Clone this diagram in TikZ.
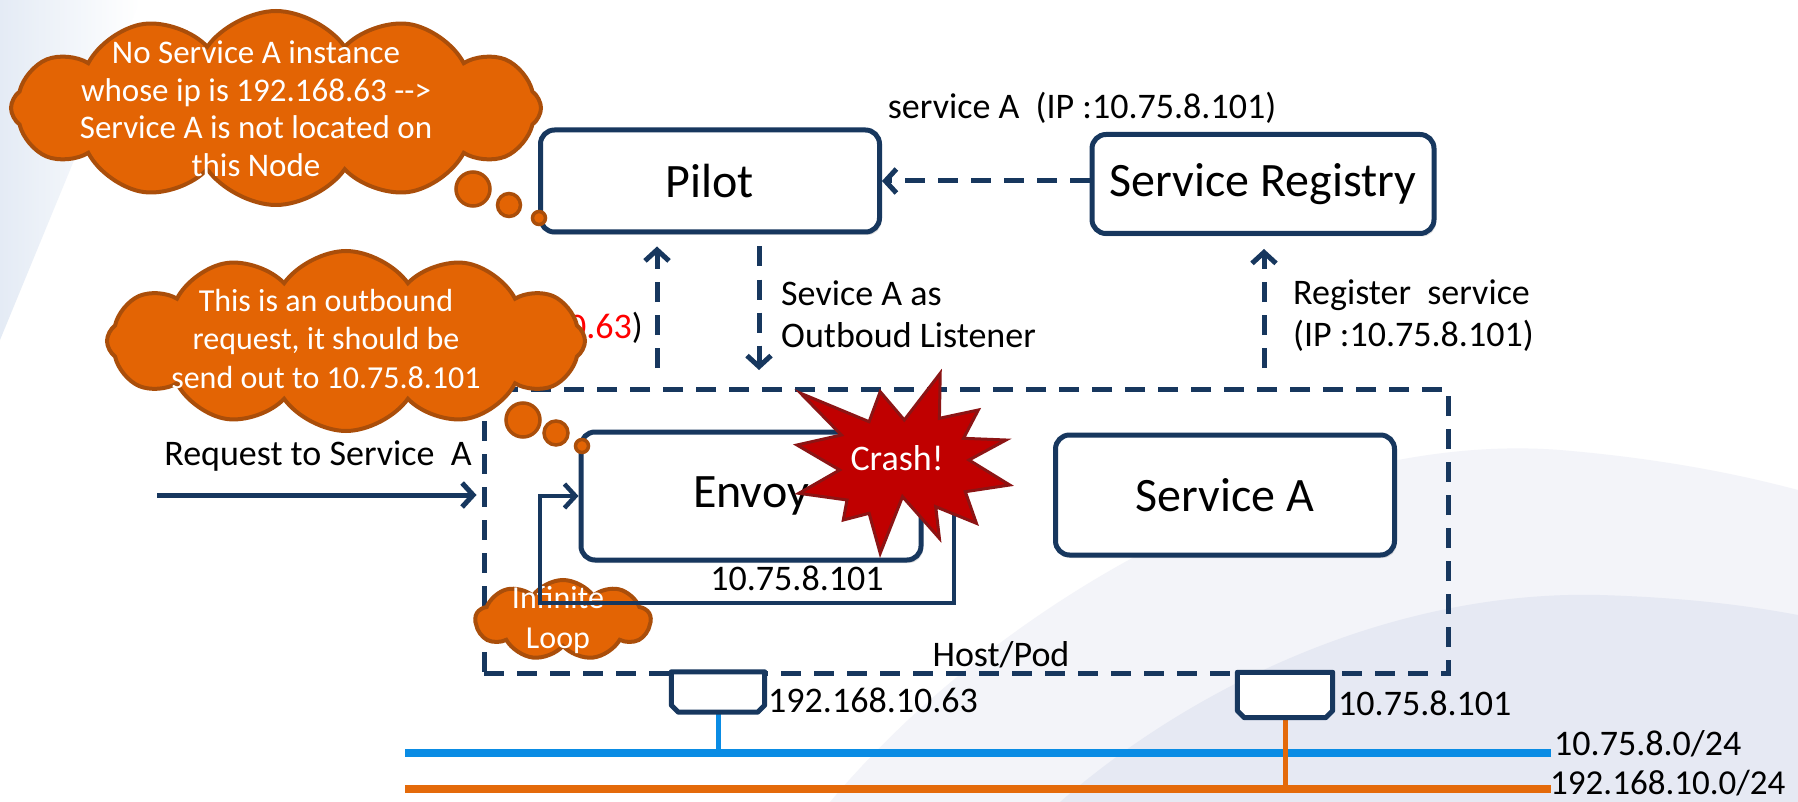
\documentclass[tikz,border=0pt]{standalone}
\usepackage{fontspec}
\setmainfont{Carlito}
\usetikzlibrary{arrows.meta,shapes.symbols,shadows}
\definecolor{navy}{RGB}{23,55,94}
\definecolor{cloudfill}{RGB}{227,100,4}
\definecolor{clouddraw}{RGB}{170,78,10}
\definecolor{crashfill}{RGB}{192,0,0}
\definecolor{crashdraw}{RGB}{140,20,20}
\definecolor{netblue}{RGB}{10,140,228}
\definecolor{netorange}{RGB}{228,106,10}
\definecolor{bgA}{RGB}{243,244,249}
\definecolor{bgB}{RGB}{230,233,243}
\definecolor{bgL}{RGB}{228,235,245}
\begin{document}
\begin{tikzpicture}[x=1pt,y=-1pt,
  lbl/.style={font=\fontsize{36}{42}\selectfont, inner sep=0pt, text=black},
  box/.style={draw=navy, line width=5pt, fill=white, rounded corners=14pt, inner sep=0pt,
    font=\fontsize{48}{56}\selectfont,
    drop shadow={opacity=0.25, shadow xshift=2pt, shadow yshift=-3pt}},
  cloudsh/.style={cloud, cloud puffs=12, cloud puff arc=110, cloud ignores aspect,
    fill=cloudfill, draw=clouddraw, line width=4pt, inner sep=0pt},
  bubble/.style={circle, fill=cloudfill, draw=clouddraw, line width=3.5pt, inner sep=0pt},
  cloudtxt/.style={text=white, align=center, inner sep=0pt},
  dashline/.style={draw=navy, line width=5pt, dash pattern=on 20pt off 13pt},
  arrowhd/.style={-{Straight Barb[length=11pt,width=24pt]}},
  ifbox/.style={draw=navy, line width=5pt, fill=white, line join=round},
  ]
\useasboundingbox (0,0) rectangle (1798,802);
% background
\fill[white] (0,0) rectangle (1798,802);
\shade[left color=bgL, right color=white] (0,0) -- (140,0) -- (0,340) -- cycle;
\fill[bgA] (830,802) .. controls (1000,600) and (1300,430) .. (1560,450)
  .. controls (1680,460) and (1760,480) .. (1798,490) -- (1798,802) -- cycle;
\fill[bgB] (1060,802) .. controls (1200,680) and (1400,590) .. (1600,595)
  .. controls (1700,598) and (1760,608) .. (1798,615) -- (1798,802) -- cycle;

% host / pod
\node[dashline, minimum width=964pt, minimum height=284pt, inner sep=0pt] (host) at (966,531) {};
\node[lbl] (hostlbl) at (1001,655) {Host/Pod};

% boxes
\node[box, minimum width=339pt, minimum height=102pt] (pilot) at (710,181) {Pilot};
\node[box, minimum width=342pt, minimum height=99pt] (reg) at (1263,184) {Service Registry};
\node[box, minimum width=340pt, minimum height=128pt] (envoy) at (751,496) {Envoy};
\node[box, minimum width=339pt, minimum height=120pt] (svca) at (1225,495) {Service A};

% labels
\node[lbl] (svclbl) at (1082,108) {service A\ \ (IP :10.75.8.101)};
\node[lbl, anchor=west, align=left] (outl) at (781,314) {Sevice A as\\Outboud Listener};
\node[lbl, anchor=west, align=left] (regl) at (1293,316) {Register\ \ service\\(IP :10.75.8.101)};
\node[lbl, anchor=east] (reqip) at (643,328) {(IP :\textcolor{red}{192.168.10.63})};
\node[lbl] (reql) at (318,456) {Request to Service\ \ A};
\node[lbl] (envip) at (797,578) {10.75.8.101};

% dashed arrows
\draw[dashline, arrowhd] (reg.west |- pilot.east) -- (pilot.east);
\coordinate (u1) at (657,368);
\draw[dashline, arrowhd, shorten >=12pt] (u1) -- (u1 |- pilot.south);
\coordinate (d1) at (759,370);
\draw[dashline, arrowhd, shorten <=12pt] (d1 |- pilot.south) -- (d1);
\coordinate (u2) at (1264,368);
\draw[dashline, arrowhd, shorten >=13pt] (u2) -- (u2 |- reg.south);

% request arrow
\coordinate (rq) at (157,495);
\draw[navy, line width=5pt, arrowhd, shorten >=5pt] (rq) -- (rq -| host.west);

% network
\node[inner sep=0pt, minimum width=93pt, minimum height=40pt] (if1) at (718,692) {};
\node[inner sep=0pt, minimum width=95pt, minimum height=45pt] (if2) at (1285,695) {};
\coordinate (nb1) at (405,753);
\coordinate (nb2) at (1551,753);
\coordinate (no1) at (405,789);
\coordinate (no2) at (1551,789);
\draw[netblue, line width=8pt] (nb1) -- (nb2);
\draw[netorange, line width=8pt] (no1) -- (no2);
\draw[netblue, line width=5pt] (if1.south) -- (if1.south |- nb1);
\draw[netorange, line width=5pt] (if2.south) -- (if2.south |- no1);
\draw[ifbox] (if1.north west) -- ([yshift=7pt]if1.south west) -- ([xshift=7pt]if1.south west)
  -- ([xshift=-7pt]if1.south east) -- ([yshift=7pt]if1.south east) -- (if1.north east) -- cycle;
\draw[ifbox] (if2.north west) -- ([yshift=7pt]if2.south west) -- ([xshift=7pt]if2.south west)
  -- ([xshift=-7pt]if2.south east) -- ([yshift=7pt]if2.south east) -- (if2.north east) -- cycle;
\node[lbl, anchor=west] (if1l) at (768,700) {192.168.10.63};
\node[lbl, anchor=west] (if2l) at (1338,703) {10.75.8.101};
\node[lbl, anchor=west] (n1l) at (1554,744) {10.75.8.0/24};
\node[lbl, anchor=west, font=\fontsize{35}{42}\selectfont] (n2l) at (1550,783) {192.168.10.0/24};

% clouds
\node[cloudsh, minimum width=530pt, minimum height=194pt] (c1) at (276,108) {};
\node[bubble, minimum size=34pt] (c1b1) at (473,189) {};
\node[bubble, minimum size=23pt] (c1b2) at (509,205) {};
\node[bubble, minimum size=13pt] (c1b3) at (539,218) {};
\node[cloudtxt, font=\fontsize{33}{37.5}\selectfont] (c1t) at (256,109)
  {No Service A instance\\whose ip is 192.168.63 -\hbox{}-\hbox{}>\\Service A is not located on\\this Node};

\node[cloudsh, minimum width=478pt, minimum height=180pt] (c2) at (346,341) {};
\node[bubble, minimum size=34pt] (c2b1) at (523,420) {};
\node[bubble, minimum size=24pt] (c2b2) at (556,433) {};
\node[bubble, minimum size=13pt] (c2b3) at (582,446) {};
\node[cloudtxt, font=\fontsize{32}{38.5}\selectfont] (c2t) at (326,339)
  {This is an outbound\\request, it should be\\send out to 10.75.8.101};

\node[cloudsh, cloud puffs=9, minimum width=175pt, minimum height=80pt] (c3) at (563,620) {};
\node[cloudtxt, font=\fontsize{32}{40}\selectfont] (c3t) at (558,620) {Infinite\\Loop};

% infinite loop line
\draw[navy, line width=4.5pt, arrowhd] (envoy.east) -- (954,496) -- (954,603) -- (540,603)
  -- (540,496) -- (envoy.west);

% crash star
\filldraw[fill=crashfill, draw=crashdraw, line width=3pt, line join=miter]
 (800.7,393.3) -- (869.1,421.7) -- (880.2,391.7) -- (904.3,420) -- (940.2,373.3)
 -- (939.4,418.3) -- (978.3,410) -- (963.5,438.3) -- (1006,440) -- (969,460)
 -- (1009.7,485) -- (965.3,491.7) -- (976.4,523.3) -- (935.7,506.7) -- (939.4,538.3)
 -- (902.5,496.7) -- (880.2,553.3) -- (869.1,513.3) -- (843.3,520) -- (847,500)
 -- (798.9,493.3) -- (839.6,470) -- (797,445) -- (841.4,435) -- cycle;
\node[lbl, text=white] (crash) at (897,458) {Crash!};
\end{tikzpicture}
\end{document}
